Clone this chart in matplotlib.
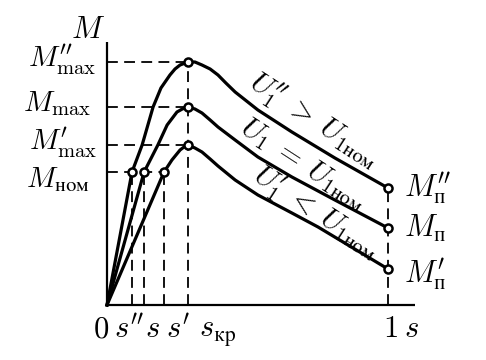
import matplotlib
matplotlib.use("Agg")
import matplotlib.pyplot as plt

plt.rcParams['mathtext.fontset'] = 'cm'
plt.rcParams['font.family'] = ['DejaVu Serif']

# ---- data (slip s, torque M in relative units) ----
s_hi = [0, 0.089, 0.125, 0.164, 0.192, 0.224, 0.242, 0.260, 0.288, 0.313, 0.338, 0.367, 0.395, 0.423, 0.456,
        0.537, 0.658, 0.811, 1.0]
m_hi = [0, 1.33, 1.60, 1.98, 2.17, 2.30, 2.36, 2.40, 2.43, 2.43, 2.40, 2.36, 2.30, 2.22, 2.13,
        1.95, 1.73, 1.47, 1.17]

s_mid = [0, 0.132, 0.181, 0.214, 0.249, 0.268, 0.288, 0.313, 0.338, 0.367, 0.395, 0.456, 0.537, 0.658, 0.811, 1.0]
m_mid = [0, 1.33, 1.60, 1.80, 1.93, 1.96, 1.98, 1.96, 1.92, 1.85, 1.78, 1.65, 1.48, 1.28, 1.05, 0.77]

s_lo = [0, 0.203, 0.231, 0.260, 0.274, 0.288, 0.313, 0.338, 0.367, 0.395, 0.456, 0.537, 0.658, 0.751, 1.0]
m_lo = [0, 1.33, 1.45, 1.55, 1.58, 1.60, 1.57, 1.53, 1.46, 1.39, 1.25, 1.10, 0.92, 0.78, 0.36]

s_kr = 0.288
m_max = [2.43, 1.98, 1.60]
s_nom = [0.089, 0.132, 0.203]
m_nom = 1.33
m_start = [1.17, 0.77, 0.36]

y_labels = [r"$M^{\prime\prime}_{\max}$", r"$M_{\max}$", r"$M^{\prime}_{\max}$", r"$M_{\mathrm{ном}}$"]
x_labels = [r"$0$", r"$s^{\prime\prime}$", r"$s$", r"$s^{\prime}$", r"$s_{\mathrm{кр}}$", r"$1$", r"$s$"]
end_labels = [r"$M^{\prime\prime}_{\mathrm{п}}$", r"$M_{\mathrm{п}}$", r"$M^{\prime}_{\mathrm{п}}$"]
curve_labels = [r"$U^{\prime\prime}_1\;>\;U_{1\mathrm{ном}}$",
                r"$U_1\;=\;U_{1\mathrm{ном}}$",
                r"$U^{\prime}_1\;<\;U_{1\mathrm{ном}}$"]

# ---- figure ----
fig = plt.figure(figsize=(4.86, 3.6), dpi=100)
ax = fig.add_axes([0, 0, 1, 1])
ax.set_xlim(-107 / 281, (486 - 107) / 281)
ax.set_ylim((305 - 360) / 100, 305 / 100)
ax.axis('off')

K = 'black'
FS = 22
dash = (0, (6, 3.5))
dlw = 1.3

# axes
ax.plot([0, 0], [0, 2.63], color=K, lw=1.6, solid_capstyle='butt', zorder=3)
ax.plot([0, 1.096], [0, 0], color=K, lw=1.6, solid_capstyle='butt', zorder=3)

# dashed guides
for m in m_max:
    ax.plot([0, s_kr], [m, m], color=K, lw=dlw, ls=dash, zorder=1)
ax.plot([0, s_nom[-1]], [m_nom, m_nom], color=K, lw=dlw, ls=dash, zorder=1)
for s in s_nom:
    ax.plot([s, s], [0, m_nom], color=K, lw=dlw, ls=dash, zorder=1)
ax.plot([s_kr, s_kr], [0, max(m_max)], color=K, lw=dlw, ls=dash, zorder=1)
ax.plot([1, 1], [0, max(m_start)], color=K, lw=dlw, ls=dash, zorder=1)

# curves
for s_arr, m_arr in [(s_hi, m_hi), (s_mid, m_mid), (s_lo, m_lo)]:
    ax.plot(s_arr, m_arr, color=K, lw=2.3, solid_joinstyle='round', zorder=2)

# markers
mk = dict(marker='o', ms=5.8, mfc='white', mec=K, mew=1.8, ls='none', zorder=4)
ax.plot(s_nom, [m_nom] * 3, **mk)
ax.plot([s_kr] * 3, m_max, **mk)
ax.plot([1] * 3, m_start, **mk)

# axis title
ax.text(-0.068, 2.76, r"$M$", fontsize=FS, ha='center', va='center')

# y labels
y_pos = [(-0.040, 2.38), (-0.058, 1.94), (-0.034, 1.55), (-0.062, 1.18)]
for lab, (x, y) in zip(y_labels, y_pos):
    ax.text(x, y, lab, fontsize=FS - 1, ha='right', va='baseline')

# x labels
x_pos = [(-0.020, 'center'), (0.026, 'left'), (0.160, 'center'), (0.210, 'left'),
         (0.329, 'left'), (1.010, 'center'), (1.058, 'left')]
for lab, (x, ha) in zip(x_labels, x_pos):
    ax.text(x, -0.32, lab, fontsize=FS, ha=ha, va='baseline')

# end labels
e_pos = [1.08, 0.68, 0.22]
for lab, y in zip(end_labels, e_pos):
    ax.text(1.058, y, lab, fontsize=FS, ha='left', va='baseline')

# curve labels
c_pos = [(0.737, 1.84), (0.698, 1.41), (0.744, 0.92)]
for lab, (x, y) in zip(curve_labels, c_pos):
    ax.text(x, y, lab, fontsize=FS - 1, ha='center', va='center', rotation=-33,
            rotation_mode='anchor')

fig.savefig("out.png", dpi=100)
